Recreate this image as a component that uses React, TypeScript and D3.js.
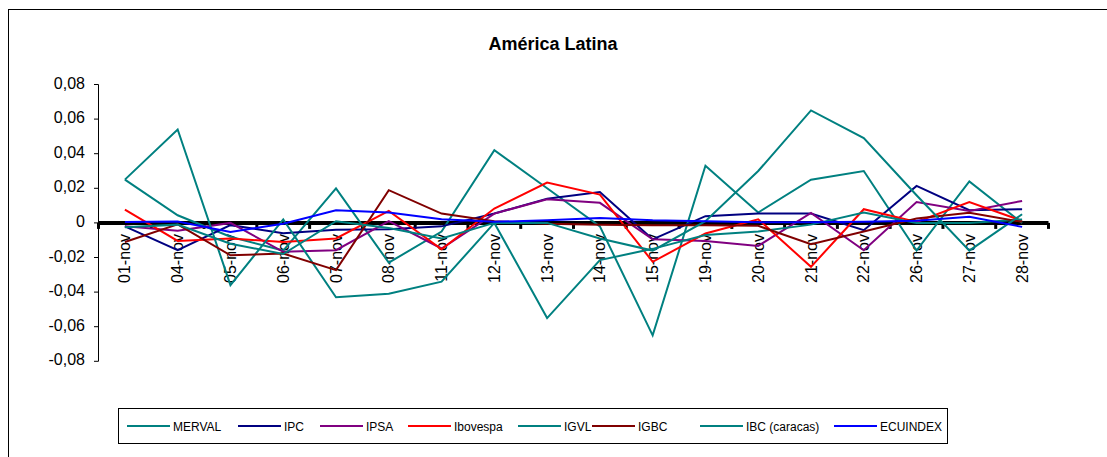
import React from "react";
import * as d3 from "d3";

const categories = ["01-nov","04-nov","05-nov","06-nov","07-nov","08-nov","11-nov","12-nov","13-nov","14-nov","15-nov","19-nov","20-nov","21-nov","22-nov","26-nov","27-nov","28-nov"];

const merval = [0.025, 0.0044, -0.008, -0.016, 0.020, -0.023, -0.005, 0.042, 0.020, -0.002, -0.065, 0.033, 0.006, 0.025, 0.030, -0.016, 0.024, 0.000];
const ipc = [-0.002, -0.0158, -0.0013, -0.006, -0.004, -0.0036, -0.002, 0.0054, 0.014, 0.0179, -0.0095, 0.0039, 0.0054, 0.0054, -0.0042, 0.0214, 0.0073, 0.0079];
const ipsa = [-0.002, -0.0046, 0.000, -0.0167, -0.0158, 0.001, -0.0148, 0.0054, 0.0137, 0.0116, -0.0095, -0.0104, -0.0133, 0.0058, -0.0158, 0.0121, 0.0069, 0.0127];
const ibovespa = [0.0077, -0.0104, -0.009, -0.011, -0.009, 0.0069, -0.0152, 0.0083, 0.0233, 0.0164, -0.0225, -0.0061, 0.0021, -0.0254, 0.0079, 0.0006, 0.0121, 0.0012];
const igvl = [0.025, 0.054, -0.036, 0.002, -0.043, -0.041, -0.034, 0.000, -0.055, -0.0215, -0.015, -0.007, -0.005, -0.001, 0.006, 0.000, 0.000, 0.002];
const igbc = [-0.011, -0.0008, -0.0187, -0.0177, -0.0273, 0.0189, 0.0054, 0.001, -0.0005, -0.001, -0.0013, -0.0013, -0.0017, -0.0123, -0.005, 0.0025, 0.0058, 0.0006];
const ibc = [-0.0025, -0.001, -0.012, -0.018, 0.001, -0.003, -0.009, 0.000, 0.000, -0.009, -0.016, 0.001, 0.030, 0.065, 0.049, 0.016, -0.016, 0.005];
const ecuindex = [0.0005, 0.0008, -0.0052, -0.0005, 0.0073, 0.006, 0.0021, 0.0006, 0.0016, 0.0029, 0.0016, 0.001, 0.0004, 0.0004, 0.0006, 0.0012, 0.0035, -0.0023];

const seriesNames = ["MERVAL", "IPC", "IPSA", "Ibovespa", "IGVL", "IGBC", "IBC (caracas)", "ECUINDEX"];
const seriesColors = ["#008080", "#000080", "#800080", "#FF0000", "#008080", "#800000", "#008080", "#0000FF"];
const seriesValues = [merval, ipc, ipsa, ibovespa, igvl, igbc, ibc, ecuindex];

const yTicks = [0.08, 0.06, 0.04, 0.02, 0, -0.02, -0.04, -0.06, -0.08];
const title = "América Latina";

const legendLineX = [127, 238, 320, 408, 518, 592, 700, 834];

export default function App() {
  const W = 1107, H = 457;
  const x = d3.scaleBand<string>().domain(categories).range([98.5, 1048.5]);
  const y = d3.scaleLinear().domain([-0.08, 0.08]).range([361.3, 84.5]);
  const cx = (c: string) => (x(c) as number) + x.bandwidth() / 2;
  const line = d3.line<number>().x((_, i) => cx(categories[i])).y((v) => y(v));
  const fmt = (v: number) => (v === 0 ? "0" : d3.format(".2f")(v).replace(".", ",").replace("−", "-"));
  const boundaries = d3.range(categories.length + 1).map((i) => 98.5 + i * x.step());
  const font = "Liberation Sans, Arial, sans-serif";

  return (
    <svg width={W} height={H} style={{ position: "absolute", left: 0, top: 0, background: "#fff" }} fontFamily={font}>
      <rect x={8.5} y={9.5} width={1200} height={600} fill="#fff" stroke="#000" strokeWidth={1} />
      <text x={553} y={50} textAnchor="middle" fontSize={18} fontWeight="bold">{title}</text>

      {/* y axis */}
      <line x1={98.5} x2={98.5} y1={y(0.08)} y2={y(-0.08)} stroke="#000" strokeWidth={1} />
      {yTicks.map((t) => (
        <g key={t}>
          <line x1={94} x2={98.5} y1={y(t)} y2={y(t)} stroke="#000" strokeWidth={1} />
          <text x={85} y={y(t) + 4} textAnchor="end" fontSize={16}>{fmt(t)}</text>
        </g>
      ))}

      {/* x axis */}
      <line x1={98.5} x2={1048.5} y1={y(0)} y2={y(0)} stroke="#000" strokeWidth={4} />
      {boundaries.map((b, i) => (
        <line key={i} x1={b} x2={b} y1={y(0)} y2={y(0) + 6} stroke="#000" strokeWidth={3} />
      ))}
      {categories.map((c) => (
        <text key={c} transform={`translate(${cx(c)},234) rotate(-90)`} textAnchor="end" dy="0.35em" fontSize={16}>{c}</text>
      ))}

      {/* series */}
      {seriesValues.map((vals, k) => (
        <path key={k} d={line(vals) as string} fill="none" stroke={seriesColors[k]} strokeWidth={2} strokeLinejoin="miter" />
      ))}

      {/* legend */}
      <rect x={118.5} y={408.5} width={829} height={35} fill="#fff" stroke="#000" strokeWidth={1} />
      {seriesNames.map((n, k) => (
        <g key={n}>
          <line x1={legendLineX[k]} x2={legendLineX[k] + 43} y1={426} y2={426} stroke={seriesColors[k]} strokeWidth={2} />
          <text x={legendLineX[k] + 46} y={430.5} fontSize={12}>{n}</text>
        </g>
      ))}
    </svg>
  );
}
